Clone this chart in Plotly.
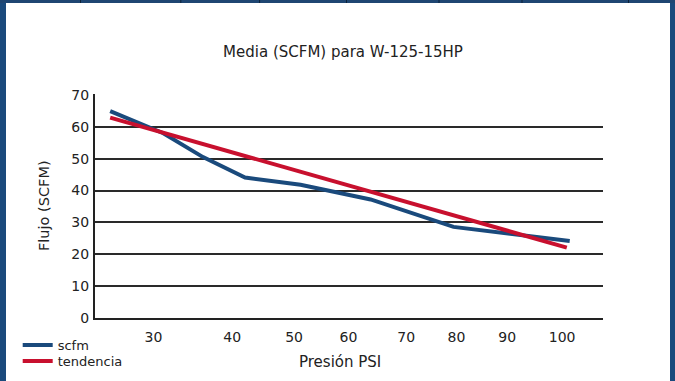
import plotly.graph_objects as go

# ---- data ----
scfm_x = [22.6, 31.7, 38.5, 45.7, 55.2, 67.2, 81.4, 101.3]
scfm_y = [64.9, 58.0, 50.5, 44.1, 41.8, 37.2, 28.6, 24.2]
trend_x = [22.6, 100.8]
trend_y = [62.9, 22.1]
x_tick_text = ["30", "40", "50", "60", "70", "80", "90", "100"]
x_tick_pos = [30, 43.5, 54.1, 63.4, 73.3, 81.9, 90.6, 100]
y_ticks = [0, 10, 20, 30, 40, 50, 60, 70]

BLUE = "#1a4a7c"
RED = "#c8102e"
INK = "#222222"
FONT = "DejaVu Sans"
W, H = 675, 381
ML, MR, MT, MB = 95, 72, 94, 63
PW = W - ML - MR
PH = H - MT - MB

def px_x(p):
    return (p - ML) / PW

def px_y(p):
    return 1 - (p - MT) / PH

fig = go.Figure()
fig.add_trace(go.Scatter(x=scfm_x, y=scfm_y, mode="lines", name="scfm",
                         line=dict(color=BLUE, width=4), legend="legend"))
fig.add_trace(go.Scatter(x=trend_x, y=trend_y, mode="lines", name="tendencia",
                         line=dict(color=RED, width=4), legend="legend2"))

shapes = [
    dict(type="rect", xref="paper", yref="paper", x0=px_x(0), x1=px_x(6), y0=px_y(H), y1=px_y(0),
         fillcolor=BLUE, line_width=0, layer="below"),
    dict(type="rect", xref="paper", yref="paper", x0=px_x(670), x1=px_x(W), y0=px_y(H), y1=px_y(0),
         fillcolor=BLUE, line_width=0, layer="below"),
    dict(type="rect", xref="paper", yref="paper", x0=px_x(0), x1=px_x(W), y0=px_y(3), y1=px_y(0),
         fillcolor="#1f4672", line_width=0, layer="below"),
]
for d in [80.5, 180.8, 259.6, 346.5, 439, 522, 628.5]:
    shapes.append(dict(type="line", xref="paper", yref="paper", x0=px_x(d), x1=px_x(d),
                       y0=px_y(3), y1=px_y(0), line=dict(color="#0c2138", width=1)))

annotations = [
    dict(text="Flujo (SCFM)", xref="paper", yref="paper", x=px_x(44), y=px_y(206),
         xanchor="center", yanchor="middle", textangle=-90, showarrow=False,
         font=dict(family=FONT, size=14.5, color=INK)),
    dict(text="Presión PSI", xref="paper", yref="paper", x=px_x(340), y=px_y(361.7),
         xanchor="center", yanchor="middle", showarrow=False,
         font=dict(family=FONT, size=15, color=INK)),
]

legend_style = dict(xref="container", yref="container", xanchor="left", yanchor="top",
                    bgcolor="rgba(0,0,0,0)", borderwidth=0,
                    font=dict(family=FONT, size=13, color=INK))

fig.update_layout(
    width=W, height=H,
    margin=dict(l=ML, r=MR, t=MT, b=MB, autoexpand=False),
    paper_bgcolor="white", plot_bgcolor="white",
    font=dict(family=FONT, size=14, color=INK),
    title=dict(text="Media (SCFM) para W-125-15HP", xref="container", yref="container",
               x=343 / W, y=1 - 51.7 / H, xanchor="center", yanchor="middle",
               font=dict(family=FONT, size=15, color=INK)),
    xaxis=dict(range=[20, 107], showgrid=False, zeroline=False, showline=True,
               linecolor=INK, linewidth=2, tickmode="array", tickvals=x_tick_pos,
               ticktext=x_tick_text, ticks="", ticklabelstandoff=5, automargin=False,
               tickfont=dict(family=FONT, size=14, color=INK)),
    yaxis=dict(range=[0, 70.3], showgrid=True, gridcolor="#2a2a2a", gridwidth=2,
               zeroline=False, showline=True, linecolor=INK, linewidth=2,
               tickmode="array", tickvals=y_ticks, ticks="", ticklabelstandoff=1,
               automargin=False,
               tickfont=dict(family=FONT, size=14, color=INK)),
    legend=dict(x=17.7 / W, y=1 - 330 / H, **legend_style),
    legend2=dict(x=17.7 / W, y=1 - 346 / H, **legend_style),
    shapes=shapes,
    annotations=annotations,
    showlegend=True,
)
fig.write_html("out.html", post_script="document.body.style.margin='0';",
               config={"displayModeBar": False})
